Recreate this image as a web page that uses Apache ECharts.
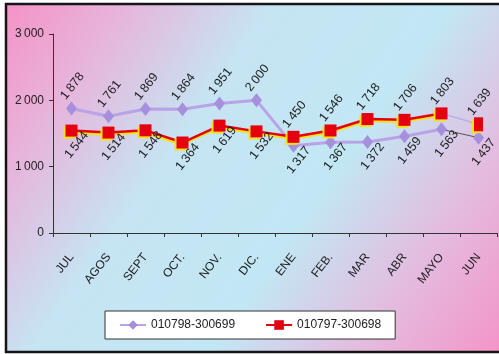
<!DOCTYPE html>
<html><head><meta charset="utf-8">
<script src="https://cdn.jsdelivr.net/npm/echarts@6/dist/echarts.min.js"></script>
<style>html,body{margin:0;padding:0;background:#fff;}#c{width:499px;height:354px;}</style>
</head><body><div id="c"></div>
<script>
var categories = ["JUL","AGOS","SEPT","OCT.","NOV.","DIC.","ENE","FEB.","MAR","ABR","MAYO","JUN"];
var seriesNames = ["010798-300699","010797-300698"];
var purpleValues = [1878,1761,1869,1864,1951,2000,1317,1367,1372,1459,1563,1437];
var redValues = [1544,1514,1548,1364,1619,1532,1450,1546,1718,1706,1803,1639];
var yTicks = [0,1000,2000,3000];

function fmt(v){ var s=String(v); return s.length>3 ? s.slice(0,s.length-3)+'\u2009'+s.slice(s.length-3) : s; }
var FONT = '"Liberation Sans", Arial, sans-serif';
var PURPLE_LINE = '#b9a2e6', PURPLE_MARK = '#a68fdc';
var RED = '#e4000e', YEL = '#f3e21a';

var labAbove = {show:true, position:'inside', align:'left', verticalAlign:'middle', rotate:52, offset:[3,-13], color:'#1e1e1e', fontSize:12.5, fontFamily:FONT, formatter:function(p){return fmt(p.value);}};
var labBelow = {show:true, position:'inside', align:'right', verticalAlign:'middle', rotate:52, offset:[7,13], color:'#1e1e1e', fontSize:12.5, fontFamily:FONT, formatter:function(p){return fmt(p.value);}};
var n = categories.length;
function mainData(vals, aboveFirst){
  return vals.map(function(v,i){
    if(i===n-1) return '-';
    var first = i<6;
    return {value:v, label:(first===aboveFirst)?labAbove:labBelow};
  });
}
function tailData(vals, aboveFirst){
  return vals.map(function(v,i){
    if(i<n-2) return '-';
    if(i===n-2) return {value:v, symbol:'none', label:{show:false}};
    return {value:v, label:(aboveFirst? labBelow: labAbove)};
  });
}
var purpleItem = {color:PURPLE_MARK};
var redItem = {color:RED, borderWidth:0, shadowColor:YEL, shadowOffsetX:-2, shadowOffsetY:2, shadowBlur:0};

var chart = echarts.init(document.getElementById('c'), null, {renderer:'canvas'});
chart.setOption({
  animation:false,
  backgroundColor:'transparent',
  graphic:[{type:'rect', z:-10, shape:{x:6,y:4,width:500,height:348},
    style:{fill:new echarts.graphic.LinearGradient(0,0,1,1,[
      {offset:0,color:'#f592c6'},{offset:0.17,color:'#e6b6dc'},{offset:0.36,color:'#c6e4f3'},
      {offset:0.6,color:'#c2e7f4'},{offset:0.8,color:'#e4bbdf'},{offset:1,color:'#f492c6'}]),
      stroke:'#151515', lineWidth:2.5}}],
  grid:{left:53, right:2, top:34, bottom:121, containLabel:false},
  legend:{left:105, top:311, padding:[8,14], itemGap:30, itemWidth:26, itemHeight:12,
    backgroundColor:'#ffffff', borderColor:'#333', borderWidth:1, borderRadius:0,
    data:[{name:seriesNames[0]},{name:seriesNames[1]}],
    textStyle:{fontFamily:FONT, fontSize:12, color:'#222'}},
  xAxis:{type:'category', data:categories, boundaryGap:true,
    axisLine:{lineStyle:{color:'#333', width:1}},
    axisTick:{show:true, inside:false, length:4, alignWithLabel:false, lineStyle:{color:'#333'}},
    axisLabel:{rotate:52, margin:22, interval:0, color:'#222', fontFamily:FONT, fontSize:12}},
  yAxis:{type:'value', min:yTicks[0], max:yTicks[yTicks.length-1], interval:yTicks[1]-yTicks[0],
    axisLine:{show:true, lineStyle:{color:'#333', width:1}},
    axisTick:{show:true, length:4, lineStyle:{color:'#333'}},
    splitLine:{show:false},
    axisLabel:{margin:9, color:'#222', fontFamily:FONT, fontSize:12, formatter:function(v){return fmt(v);}}},
  series:[
    {name:seriesNames[0], type:'line', data:mainData(purpleValues,true), z:3,
      symbol:'diamond', symbolSize:[11,14], itemStyle:purpleItem,
      lineStyle:{color:PURPLE_LINE, width:3}},
    {name:'_pt', type:'line', data:tailData(purpleValues,true), z:3,
      symbol:'diamond', symbolSize:[11,14], itemStyle:purpleItem,
      lineStyle:{color:'#555', width:1}},
    {name:seriesNames[1], type:'line', data:mainData(redValues,false), z:4,
      symbol:'rect', symbolSize:12, itemStyle:redItem,
      lineStyle:{color:RED, width:2.5, shadowColor:YEL, shadowOffsetX:-1, shadowOffsetY:2, shadowBlur:0}},
    {name:'_rt', type:'line', data:tailData(redValues,false), z:4,
      symbol:'rect', symbolSize:[9,14], itemStyle:redItem,
      lineStyle:{color:'#b8aee6', width:1.5}}
  ]
});
</script></body></html>
